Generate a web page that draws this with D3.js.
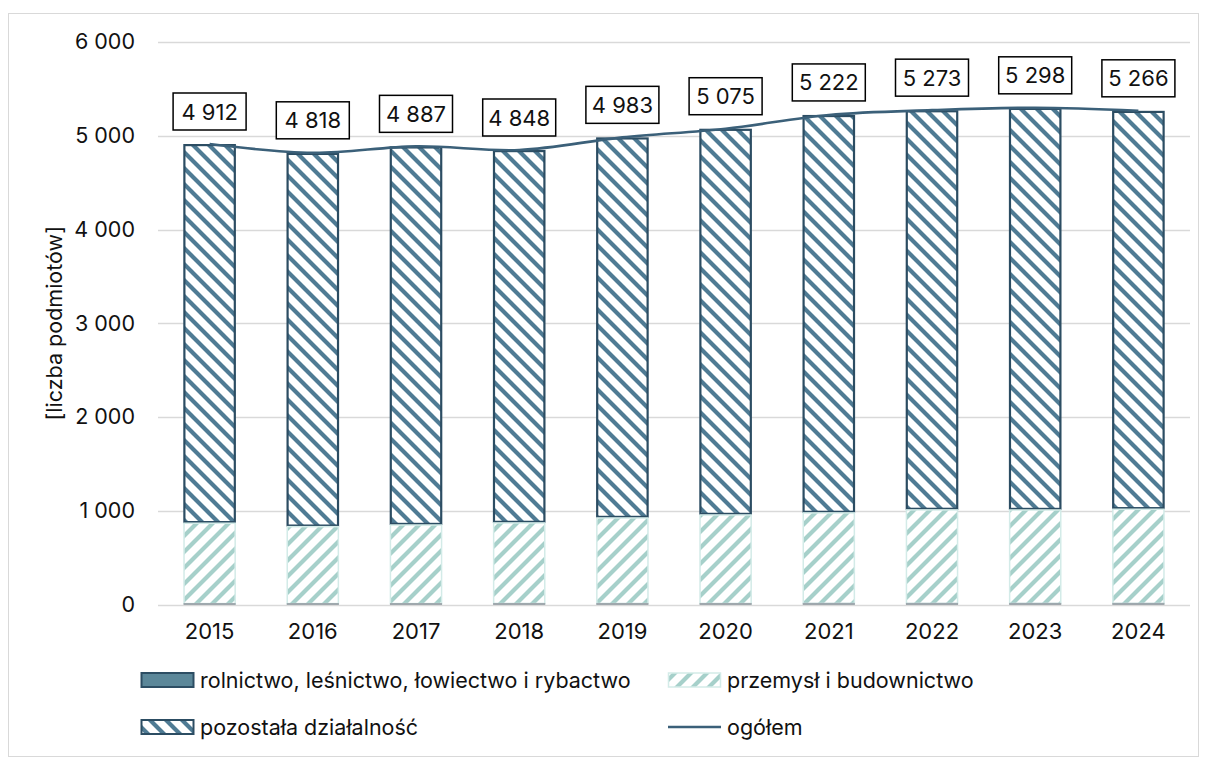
<!DOCTYPE html>
<html><head><meta charset="utf-8">
<script src="https://cdn.jsdelivr.net/npm/d3@7"></script>
<style>body{margin:0;background:#fff}svg{display:block}</style>
</head><body>
<svg id="c" width="1205" height="761"></svg>
<script>
const years = ["2015","2016","2017","2018","2019","2020","2021","2022","2023","2024"];
const rolnictwo = [10, 10, 10, 11, 11, 11, 12, 12, 12, 12];
const przemysl = [857, 820, 838, 859, 912, 944, 965, 997, 996, 1004];
const total = [4912, 4818, 4887, 4848, 4983, 5075, 5222, 5273, 5298, 5266];
const pozostala = total.map((t, i) => t - rolnictwo[i] - przemysl[i]);
const yTicks = [0, 1000, 2000, 3000, 4000, 5000, 6000];
const seriesNames = ["rolnictwo, leśnictwo, łowiectwo i rybactwo", "przemysł i budownictwo", "pozostała działalność", "ogółem"];

const svg = d3.select("#c");
const font = "Inter, 'Open Sans', sans-serif";
const fs = 21.5;
const pL = 158, pR = 1190, pT = 42, pB = 604.5;
const fmt = v => d3.format(",")(v).replace(/,/g, " ");

const defs = svg.append("defs");
function stripes(id, color, dir) {
  const p = defs.append("pattern").attr("id", id).attr("patternUnits", "userSpaceOnUse")
    .attr("width", 16).attr("height", 16);
  p.append("rect").attr("width", 16).attr("height", 16).attr("fill", "#fff");
  const d = dir > 0 ? "M-4,4 L4,-4 M0,16 L16,0 M12,20 L20,12" : "M-4,12 L4,20 M0,0 L16,16 M12,-4 L20,4";
  p.append("path").attr("d", d).attr("stroke", color).attr("stroke-width", 4.2);
}
stripes("pLight", "#a6d0ca", 1);
stripes("pDark", "#4f7b94", -1);

svg.append("rect").attr("x", 8.5).attr("y", 13.5).attr("width", 1190).attr("height", 743)
  .attr("fill", "#fff").attr("stroke", "#d9d9d9").attr("stroke-width", 1);

const x = d3.scaleBand().domain(years).range([pL, pR]).paddingInner(0.49).paddingOuter(0.245);
const y = d3.scaleLinear().domain([0, 6000]).range([pB, pT]);

// grid
svg.append("g").selectAll("line").data(yTicks).join("line")
  .attr("x1", pL).attr("x2", pR).attr("y1", d => Math.round(y(d)) + 0.5).attr("y2", d => Math.round(y(d)) + 0.5)
  .attr("stroke", "#d9d9d9").attr("stroke-width", 1.3);

// y axis labels
const yAxis = d3.axisLeft(y).tickValues(yTicks).tickFormat(fmt).tickSize(0).tickPadding(0);
const ga = svg.append("g").attr("transform", `translate(135,0)`).call(yAxis);
ga.select(".domain").remove();
ga.selectAll("text").attr("font-family", font).attr("font-size", fs).attr("fill", "#111");

// x axis labels
const xAxis = d3.axisBottom(x).tickSize(0).tickPadding(0);
const gx = svg.append("g").attr("transform", `translate(0,${pB + 19})`).call(xAxis);
gx.select(".domain").remove();
gx.selectAll("text").attr("font-family", font).attr("font-size", 22).attr("fill", "#111");

svg.append("text").attr("transform", `translate(62,${(pT + pB) / 2}) rotate(-90)`)
  .attr("text-anchor", "middle").attr("font-family", font).attr("font-size", fs).attr("fill", "#111")
  .text("[liczba podmiotów]");

// stacked bars
const stackData = years.map((yr, i) => ({ year: yr, r: rolnictwo[i], p: przemysl[i], o: pozostala[i] }));
const stack = d3.stack().keys(["r", "p", "o"])(stackData);
const styles = {
  r: { fill: "#5b8799", stroke: "#a0a8ad", sw: 1 },
  p: { fill: "url(#pLight)", stroke: "#d3ebe8", sw: 1.5 },
  o: { fill: "url(#pDark)", stroke: "#2c4d63", sw: 2.2 }
};
stack.slice().reverse().forEach(s => {
  const st = styles[s.key];
  const inset = s.key === "o" ? 1.1 : 0.75;
  svg.append("g").selectAll("rect").data(s).join("rect")
    .attr("x", d => x(d.data.year) + inset)
    .attr("width", x.bandwidth() - 2 * inset)
    .attr("y", d => y(d[1]) + (s.key === "o" ? inset : 0))
    .attr("height", d => Math.max(0.8, y(d[0]) - y(d[1]) - (s.key === "o" ? 2 * inset : 0)))
    .attr("fill", st.fill).attr("stroke", st.stroke).attr("stroke-width", st.sw);
});

// total line
const line = d3.line().x((d, i) => x(years[i]) + x.bandwidth() / 2).y(d => y(d)).curve(d3.curveCatmullRom.alpha(0.5));
svg.append("path").datum(total).attr("d", line).attr("fill", "none")
  .attr("stroke", "#3b6079").attr("stroke-width", 2.6);

// labels
const lg = svg.append("g").selectAll("g").data(total).join("g")
  .attr("transform", (d, i) => `translate(${x(years[i]) + x.bandwidth() / 2},${y(d) - 14})`);
lg.append("rect").attr("x", -36.5).attr("y", -37).attr("width", 73).attr("height", 37)
  .attr("fill", "#fff").attr("stroke", "#000").attr("stroke-width", 1.5);
lg.append("text").attr("y", -10.5).attr("text-anchor", "middle").attr("font-family", font)
  .attr("font-size", 22).attr("fill", "#111").text(d => fmt(d));

// legend
const legItems = [
  { name: seriesNames[0], x: 141, y: 680, type: "r" },
  { name: seriesNames[1], x: 668, y: 680, type: "p" },
  { name: seriesNames[2], x: 141, y: 727, type: "o" },
  { name: seriesNames[3], x: 668, y: 727, type: "line" }
];
const leg = svg.append("g").selectAll("g").data(legItems).join("g")
  .attr("transform", d => `translate(${d.x},${d.y})`);
leg.each(function (d) {
  const g = d3.select(this);
  if (d.type === "line") {
    g.append("line").attr("x1", 0).attr("x2", 53).attr("y1", 0).attr("y2", 0)
      .attr("stroke", "#3b6079").attr("stroke-width", 2.6);
  } else {
    const st = styles[d.type];
    g.append("rect").attr("x", 0.5).attr("y", -7).attr("width", 52).attr("height", 14)
      .attr("fill", st.fill).attr("stroke", d.type === "r" ? "#2c4d63" : st.stroke).attr("stroke-width", d.type === "p" ? 1.5 : 2);
  }
  g.append("text").attr("x", 59).attr("y", 7.5).attr("font-family", font).attr("font-size", fs)
    .attr("fill", "#111").text(d.name);
});
</script>
</body></html>
